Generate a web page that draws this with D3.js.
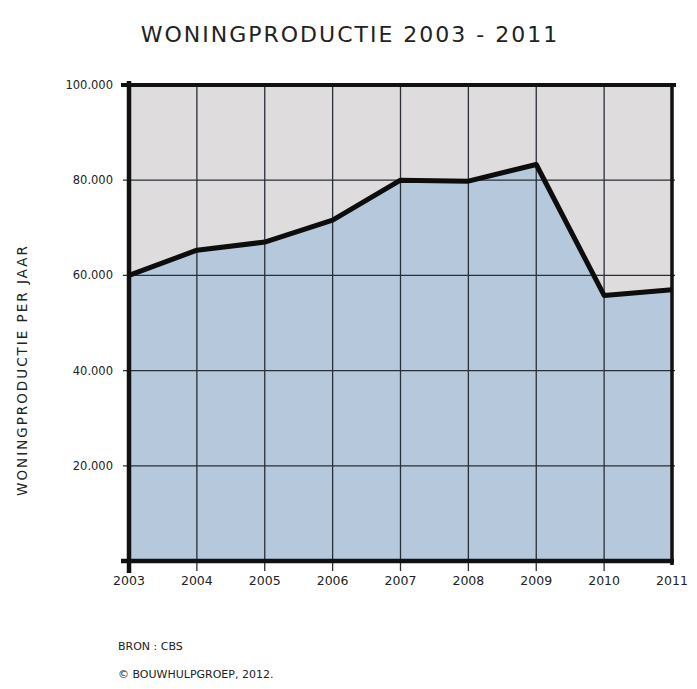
<!DOCTYPE html>
<html><head><meta charset="utf-8">
<script src="https://cdn.jsdelivr.net/npm/d3@7"></script>
<style>
body{margin:0;background:#fff;}
text{font-family:"DejaVu Sans",sans-serif;fill:#222;}
</style></head>
<body><svg id="c" width="697" height="689"></svg>
<script>
const years = [2003,2004,2005,2006,2007,2008,2009,2010,2011];
const production = [60000,65300,67000,71600,80000,79800,83300,55800,57000];
const yTicks = [20000,40000,60000,80000,100000];
const yTickLabels = ["20.000","40.000","60.000","80.000","100.000"];
const title = "WONINGPRODUCTIE  2003 - 2011";
const yLabel = "WONINGPRODUCTIE PER JAAR";
const footer = ["BRON : CBS","© BOUWHULPGROEP, 2012."];

const svg = d3.select("#c");
const m = {l:129, r:672, t:85, b:561};
const x = d3.scaleLinear().domain([2003,2011]).range([m.l,m.r]);
const y = d3.scaleLinear().domain([0,100000]).range([m.b,m.t]);

// background
svg.append("rect").attr("x",m.l).attr("y",m.t).attr("width",m.r-m.l).attr("height",m.b-m.t).attr("fill","#dedcdc");
// area
const data = years.map((yr,i)=>({yr,v:production[i]}));
svg.append("path").datum(data)
  .attr("d",d3.area().x(d=>x(d.yr)).y0(y(0)).y1(d=>y(d.v)))
  .attr("fill","#b6c8dc");

// grid
const g = svg.append("g");
g.selectAll(".vg").data(years.slice(1,-1)).join("line")
  .attr("x1",d=>x(d)).attr("x2",d=>x(d)).attr("y1",m.t).attr("y2",m.b+10)
  .attr("stroke","#2a2f38").attr("stroke-width",1.3);
g.selectAll(".hg").data(yTicks.slice(0,-1)).join("line")
  .attr("x1",m.l-6).attr("x2",m.r+3).attr("y1",d=>y(d)).attr("y2",d=>y(d))
  .attr("stroke","#2a2f38").attr("stroke-width",1.3);

// frame
svg.append("line").attr("x1",m.l-8).attr("x2",m.r+4).attr("y1",m.t).attr("y2",m.t).attr("stroke","#111").attr("stroke-width",4);
svg.append("line").attr("x1",m.l-8).attr("x2",m.r+2).attr("y1",m.b).attr("y2",m.b).attr("stroke","#111").attr("stroke-width",4.5);
svg.append("line").attr("x1",m.l).attr("x2",m.l).attr("y1",m.t-4).attr("y2",m.b+12).attr("stroke","#111").attr("stroke-width",4.5);
svg.append("line").attr("x1",m.r).attr("x2",m.r).attr("y1",m.t-2).attr("y2",m.b+4).attr("stroke","#111").attr("stroke-width",3.5);

// data line
svg.append("path").datum(data)
  .attr("d",d3.line().x(d=>x(d.yr)).y(d=>y(d.v)))
  .attr("fill","none").attr("stroke","#0d0d0d").attr("stroke-width",5).attr("stroke-linejoin","round");

// y tick labels
svg.selectAll(".yl").data(yTicks).join("text")
  .attr("x",m.l-16).attr("y",d=>y(d)+4).attr("text-anchor","end")
  .attr("font-size",11.5).text((d,i)=>yTickLabels[i]);

// x labels
svg.selectAll(".xl").data(years).join("text")
  .attr("x",d=>x(d)).attr("y",m.b+24).attr("text-anchor","middle")
  .attr("font-size",12.5).text(d=>d);

// title
svg.append("text").attr("x",350).attr("y",42).attr("text-anchor","middle")
  .attr("font-size",22).attr("letter-spacing",2).text(title);
// y label
svg.append("text").attr("transform","translate(27,370) rotate(-90)").attr("text-anchor","middle")
  .attr("font-size",13.5).attr("letter-spacing",2).text(yLabel);
// footer
svg.selectAll(".ft").data(footer).join("text")
  .attr("x",118).attr("y",(d,i)=>650+i*28).attr("font-size",11).text(d=>d);
</script></body></html>
